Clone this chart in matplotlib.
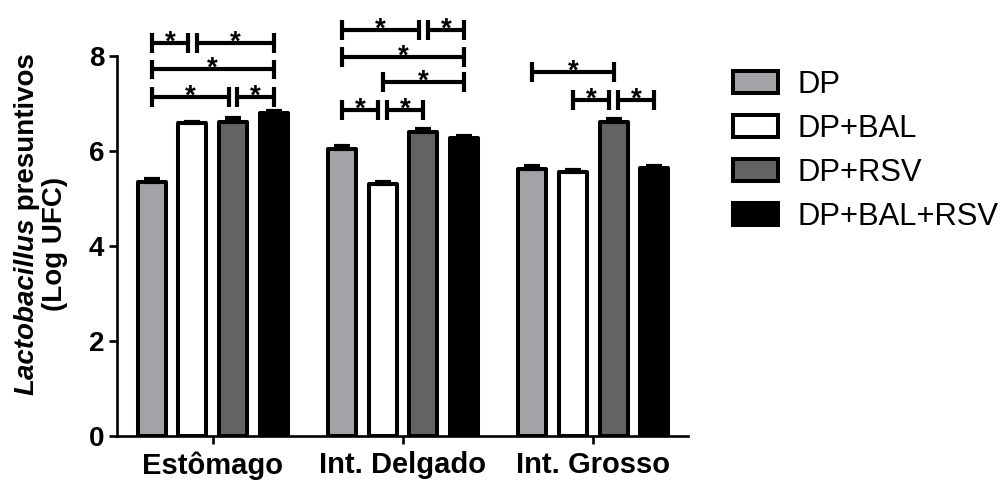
import matplotlib
matplotlib.use("Agg")
import matplotlib.pyplot as plt
import numpy as np

plt.rcParams['font.family'] = ['Liberation Sans', 'DejaVu Sans']

# data
grupos = ['Estômago', 'Int. Delgado', 'Int. Grosso']
series = ['DP', 'DP+BAL', 'DP+RSV', 'DP+BAL+RSV']
dp = [5.36, 6.05, 5.63]
dp_bal = [6.59, 5.31, 5.56]
dp_rsv = [6.62, 6.40, 6.61]
dp_bal_rsv = [6.81, 6.28, 5.64]
err_dp = [0.06, 0.05, 0.06]
err_bal = [0.02, 0.05, 0.04]
err_rsv = [0.07, 0.07, 0.06]
err_bal_rsv = [0.03, 0.04, 0.04]

# significance brackets: (grupo, barra i, barra j, altura)
colchetes = [
    (0, 0, 1, 8.27), (0, 1, 3, 8.27),
    (0, 0, 3, 7.72),
    (0, 0, 2, 7.14), (0, 2, 3, 7.14),
    (1, 0, 2, 8.55), (1, 2, 3, 8.55),
    (1, 0, 3, 7.98),
    (1, 1, 3, 7.45),
    (1, 0, 1, 6.86), (1, 1, 2, 6.86),
    (2, 0, 2, 7.66),
    (2, 1, 2, 7.07), (2, 2, 3, 7.07),
]

valores = [dp, dp_bal, dp_rsv, dp_bal_rsv]
erros = [err_dp, err_bal, err_rsv, err_bal_rsv]
cores = ['#a3a3a7', 'white', '#636363', 'black']

fig = plt.figure(figsize=(10.05, 4.82), dpi=100)
ax = fig.add_axes([0.1164, 0.0954, 0.568, 0.788])

x = np.arange(len(grupos))
passo = 0.214
larg = 0.148
offs = (np.arange(4) - 1.5) * passo

handles = []
for k in range(4):
    b = ax.bar(x + offs[k], valores[k], width=larg, color=cores[k],
               edgecolor='black', linewidth=2.9,
               label=series[k], zorder=3)
    for p in b:
        p.set_joinstyle('round')
    handles.append(b)
    ax.errorbar(x + offs[k], valores[k],
                yerr=[np.zeros(3), erros[k]], fmt='none', ecolor='black',
                elinewidth=2.5, capsize=5.5, capthick=3, zorder=4)

# brackets
dy = 0.21
for g, i, j, y in colchetes:
    x1 = x[g] + offs[i]
    x2 = x[g] + offs[j]
    # small gap where two brackets meet on the same row
    for g2, i2, j2, y2 in colchetes:
        if g2 == g and y2 == y:
            if j2 == i:
                x1 += 0.022
            if i2 == j:
                x2 -= 0.022
    ax.plot([x1, x2], [y, y], color='black', lw=3, clip_on=False,
            solid_capstyle='butt', zorder=5)
    ax.plot([x1, x1], [y - dy, y + dy], color='black', lw=3, clip_on=False,
            solid_capstyle='butt', zorder=5)
    ax.plot([x2, x2], [y - dy, y + dy], color='black', lw=3, clip_on=False,
            solid_capstyle='butt', zorder=5)
    ax.text((x1 + x2) / 2, y - 0.13, '*', ha='center', va='baseline',
            fontsize=20, fontweight='bold', clip_on=False)

ax.set_xlim(-0.503, 2.497)
ax.set_ylim(0, 8)
ax.set_yticks([0, 2, 4, 6, 8])
ax.set_xticks(x)
ax.set_xticklabels(grupos)
for s in ['top', 'right']:
    ax.spines[s].set_visible(False)
for s in ['left', 'bottom']:
    ax.spines[s].set_linewidth(1.9)
ax.tick_params(axis='both', width=1.9, length=6, labelsize=20, pad=3)
ax.tick_params(axis='x', labelsize=21, pad=5)
for t in ax.get_xticklabels() + ax.get_yticklabels():
    t.set_fontweight('bold')

# y label, two lines, first part italic
t1 = fig.text(27 / 1005, 1 - 395 / 482, 'Lactobacillus', rotation=90,
              ha='center', va='bottom', fontsize=20, fontweight='bold',
              fontstyle='italic')
fig.canvas.draw()
bb = t1.get_window_extent()
fig.text(27 / 1005, bb.y1 / 482, ' presuntivos', rotation=90,
         ha='center', va='bottom', fontsize=20, fontweight='bold')
fig.text(55 / 1005, 1 - 244 / 482, '(Log UFC)', rotation=90,
         ha='center', va='center', fontsize=20, fontweight='bold')

leg = fig.legend(handles=handles, labels=series, loc='upper left',
                 bbox_to_anchor=(705 / 1005, 1 - 42 / 482), frameon=False,
                 fontsize=22.3, handlelength=1.45, handleheight=0.72,
                 labelspacing=0.45, handletextpad=0.65)

fig.savefig('out.png', dpi=100)
